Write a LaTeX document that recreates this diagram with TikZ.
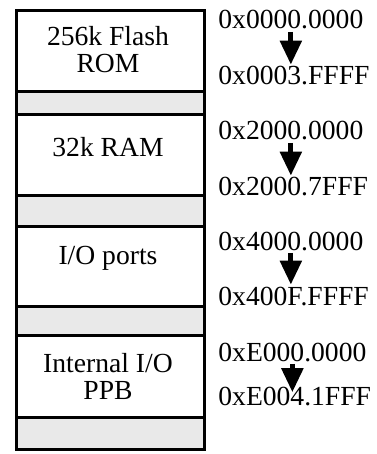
\documentclass[tikz,border=0pt]{standalone}
\usepackage{fontspec}
\setmainfont{Liberation Serif}
\usepackage{tikz}
\usetikzlibrary{arrows.meta, positioning, calc}
\definecolor{gapgray}{RGB}{233,233,233}

\begin{document}
\begin{tikzpicture}[x=0.5pt, y=-0.5pt,
	region/.style={draw, line width=1.5pt},
	gap/.style={region, fill=gapgray},
	memlabel/.style={align=center, inner sep=0pt, font=\fontsize{13.8}{13.5}\selectfont},
	addr/.style={anchor=base west, inner sep=0pt, font=\fontsize{13.8}{13.5}\selectfont},
	addrarrow/.style={line width=2.6pt, -{Triangle[length=12pt,width=10.5pt]}, shorten <=1pt, shorten >=0.8pt}]
	\useasboundingbox (0,0) rectangle (376,454);
	% memory map
	\draw[region] (16.5,10.5) rectangle (204,449);
	\foreach \ya/\yb in {91.7/114.7, 195/226.5, 306.5/335.5, 417.5/449}
		\draw[gap] (16.5,\ya) rectangle (204,\yb);
	\node[memlabel] (flash) at (108,50) {256k Flash\\ROM};
	\node[memlabel, anchor=base] (ram) at (108,157) {32k RAM};
	\node[memlabel, anchor=base] (io) at (108,264) {I/O ports};
	\node[memlabel] (ppb) at (108,376) {Internal I/O\\PPB};
	% address ranges
	\node[addr] (flashlo) at (218,29) {0x0000.0000};
	\node[addr] (flashhi) at (218,85) {0x0003.FFFF};
	\node[addr] (ramlo) at (218,140) {0x2000.0000};
	\node[addr] (ramhi) at (218,196) {0x2000.7FFF};
	\node[addr] (iolo) at (218,250) {0x4000.0000};
	\node[addr] (iohi) at (218,305) {0x400F.FFFF};
	\node[addr] (ppblo) at (218,361) {0xE000.0000};
	\node[addr] (ppbhi) at (218,405) {0xE004.1FFF};
	\foreach \lo/\hi in {flashlo/flashhi, ramlo/ramhi, iolo/iohi}
		\draw[addrarrow] (\lo.south) -- (\lo.south |- \hi.north);
	\draw[addrarrow, shorten >=-3pt] (ppblo.south) -- (ppblo.south |- ppbhi.north);
\end{tikzpicture}
\end{document}
